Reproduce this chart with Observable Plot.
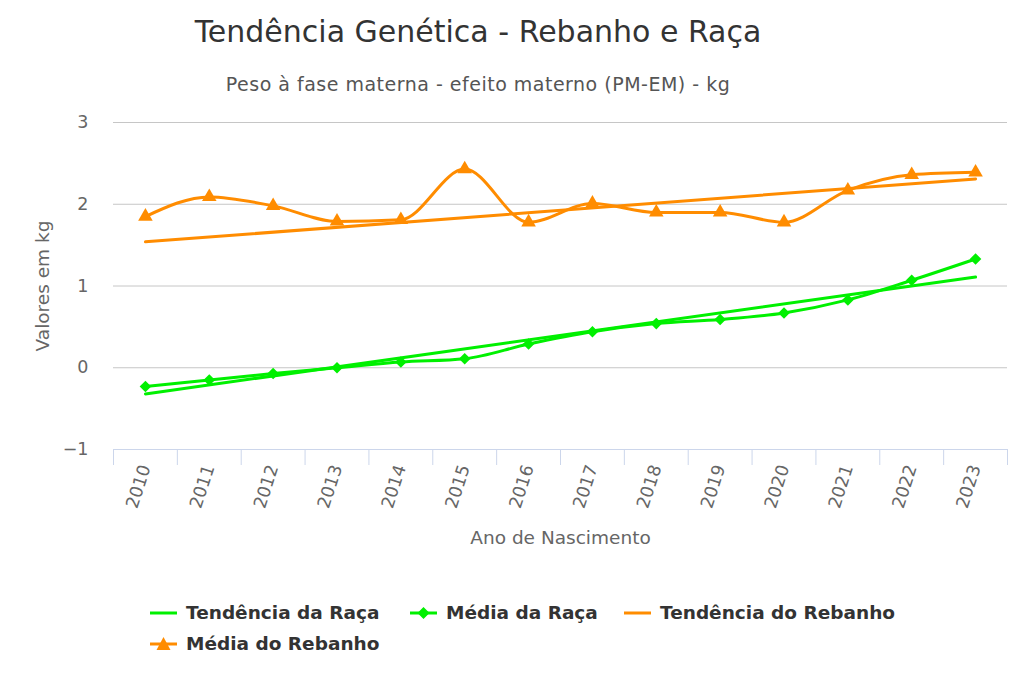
<!DOCTYPE html>
<html><head><meta charset="utf-8">
<script src="https://cdn.jsdelivr.net/npm/d3@7"></script>
<script src="https://cdn.jsdelivr.net/npm/@observablehq/plot@0.6"></script>
<style>
body{margin:0;background:#fff;font-family:"DejaVu Sans",sans-serif}
#wrap{position:relative;width:1024px;height:682px;overflow:hidden}
#title{position:absolute;left:0;width:956px;top:12px;text-align:center;font-size:30px;line-height:40px;color:#333}
#subtitle{position:absolute;left:0;width:956px;top:72px;text-align:center;font-size:19px;letter-spacing:0.5px;line-height:24px;color:#555}
#chart{position:absolute;left:0;top:0}
.leg{position:absolute;font-size:18.5px;font-weight:bold;color:#333;line-height:24px;white-space:nowrap}
.leg svg{position:absolute;left:-36px;top:0}
</style></head>
<body><div id="wrap">
<div id="chart"></div>
<div id="title">Tendência Genética - Rebanho e Raça</div>
<div id="subtitle">Peso à fase materna - efeito materno (PM-EM) - kg</div>
<div id="legend"></div>
</div>
<script>
const years = [2010,2011,2012,2013,2014,2015,2016,2017,2018,2019,2020,2021,2022,2023];
const mediaRaca = [-0.23,-0.15,-0.07,0.00,0.07,0.11,0.29,0.44,0.54,0.59,0.67,0.83,1.07,1.33];
const mediaRebanho = [1.85,2.09,1.98,1.79,1.81,2.43,1.78,2.01,1.90,1.90,1.78,2.17,2.36,2.39];
const trendYears = [2010,2023];
const tendRaca = [-0.32,1.11];
const tendRebanho = [1.54,2.31];
const yTicks = [-1,0,1,2,3];
const bandEdges = [2009.5,2010.5,2011.5,2012.5,2013.5,2014.5,2015.5,2016.5,2017.5,2018.5,2019.5,2020.5,2021.5,2022.5,2023.5];

const GREEN = "#00f000";
const ORANGE = "#ff8c00";

const raca = years.map((y,i)=>({year:y, v:mediaRaca[i]}));
const rebanho = years.map((y,i)=>({year:y, v:mediaRebanho[i]}));
const tRaca = trendYears.map((y,i)=>({year:y, v:tendRaca[i]}));
const tReb = trendYears.map((y,i)=>({year:y, v:tendRebanho[i]}));

const chart = Plot.plot({
  width:1024, height:682,
  marginTop:122, marginBottom:233, marginLeft:113, marginRight:17,
  style:{fontFamily:"DejaVu Sans, sans-serif", fontSize:"17px", color:"#666", background:"transparent"},
  x:{domain:[2009.5,2023.5]},
  y:{domain:[-1,3]},
  marks:[
    Plot.gridY(yTicks,{stroke:"#c6c6c6", strokeOpacity:1}),
    Plot.axisY(yTicks,{tickSize:0, tickPadding:25, fontSize:17.5, fill:"#666", label:null, tickFormat:d3.format("d")}),
    Plot.axisX(bandEdges,{tickSize:16, stroke:"#ccd6eb", strokeOpacity:1, tickFormat:()=>"", label:null}),
    Plot.ruleY([-1],{stroke:"#ccd6eb", strokeWidth:1.2}),
    Plot.axisX(years,{tickSize:0, tickPadding:16, tickRotate:-72, tickFormat:d=>String(d), fontSize:17.5, fill:"#666", label:null}),
    Plot.text(["Ano de Nascimento"],{frameAnchor:"bottom", dy:89, lineAnchor:"middle", fontSize:18.5, fill:"#666"}),
    Plot.text(["Valores em kg"],{frameAnchor:"left", dx:-70, rotate:-90, textAnchor:"middle", lineAnchor:"middle", fontSize:18.5, fill:"#666"}),
    Plot.line(tRaca,{x:"year", y:"v", stroke:GREEN, strokeWidth:3}),
    Plot.line(raca,{x:"year", y:"v", stroke:GREEN, strokeWidth:3, curve:"monotone-x"}),
    Plot.dot(raca,{x:"year", y:"v", fill:GREEN, symbol:"diamond2", r:5.2}),
    Plot.line(tReb,{x:"year", y:"v", stroke:ORANGE, strokeWidth:3}),
    Plot.line(rebanho,{x:"year", y:"v", stroke:ORANGE, strokeWidth:3, curve:"monotone-x"}),
    Plot.dot(rebanho,{x:"year", y:"v", fill:ORANGE, symbol:"triangle", r:5.4})
  ]
});
document.getElementById("chart").appendChild(chart);

const legendItems = [
  {label:"Tendência da Raça", color:GREEN, marker:null, x:186, y:601},
  {label:"Média da Raça", color:GREEN, marker:"diamond", x:446, y:601},
  {label:"Tendência do Rebanho", color:ORANGE, marker:null, x:660, y:601},
  {label:"Média do Rebanho", color:ORANGE, marker:"triangle", x:186, y:632}
];
const legend = document.getElementById("legend");
legendItems.forEach(it=>{
  const d = document.createElement("div");
  d.className="leg";
  d.style.left = it.x+"px";
  d.style.top = it.y+"px";
  let m = "";
  if(it.marker==="diamond") m = `<path d="M13.5 6 L19.5 12 L13.5 18 L7.5 12 Z" fill="${it.color}"/>`;
  if(it.marker==="triangle") m = `<path d="M13.5 5 L20.5 18 L6.5 18 Z" fill="${it.color}"/>`;
  d.innerHTML = `<svg width="28" height="24"><line x1="0" x2="27" y1="12" y2="12" stroke="${it.color}" stroke-width="3"/>${m}</svg>${it.label}`;
  legend.appendChild(d);
});
</script>
</body></html>
